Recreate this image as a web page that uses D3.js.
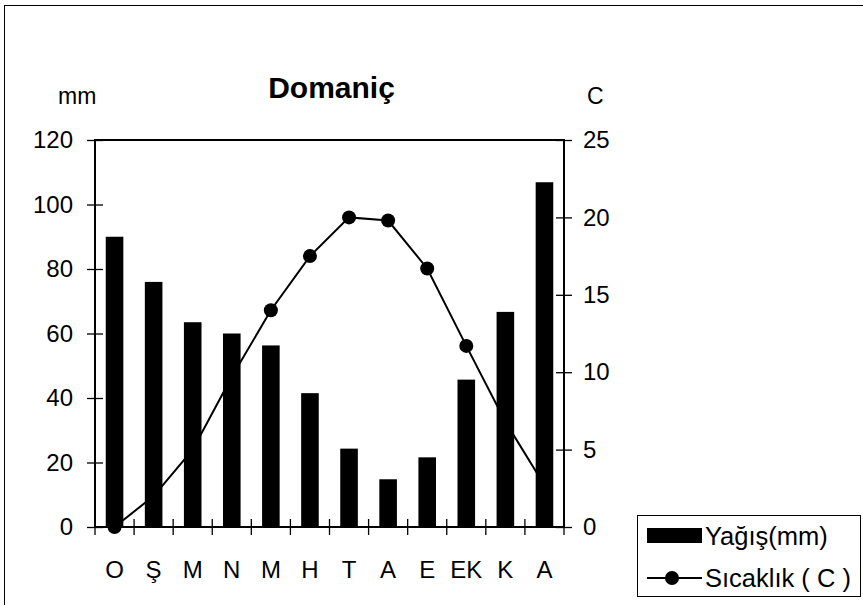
<!DOCTYPE html>
<html><head><meta charset="utf-8">
<script src="https://cdn.jsdelivr.net/npm/d3@7"></script>
<style>
html,body{margin:0;padding:0;background:#fff;}
svg{display:block;font-family:"Liberation Sans",Arial,sans-serif;}
</style></head>
<body>
<svg id="chart" width="863" height="605"></svg>
<script>
const months = ["O","Ş","M","N","M","H","T","A","E","EK","K","A"];
const precipitation = [90, 76, 63.5, 60, 56.3, 41.5, 24.3, 14.8, 21.6, 45.7, 66.7, 106.9];
const temperature = [0, 2.0, 5.0, 9.7, 14.0, 17.5, 20.0, 19.8, 16.7, 11.7, 6.8, 2.7];
const leftTicks = [0, 20, 40, 60, 80, 100, 120];
const rightTicks = [0, 5, 10, 15, 20, 25];
const title = "Domaniç";
const leftUnit = "mm", rightUnit = "C";
const legendLabels = ["Yağış(mm)", "Sıcaklık ( C )"];

const FS = 24;
const svg = d3.select("#chart");
const L = 95, R = 564, T = 140, B = 527;

svg.append("rect").attr("x",4.5).attr("y",5.5).attr("width",950).attr("height",700)
  .attr("fill","none").attr("stroke","#000").attr("stroke-width",1);

const idx = months.map((d,i)=>i);
const x = d3.scaleBand().domain(idx).range([L,R]).paddingInner(0).paddingOuter(0);
const yL = d3.scaleLinear().domain([0,120]).range([B,T]);
const yR = d3.scaleLinear().domain([0,25]).range([B,T]);

const line = d3.line().x((d,i)=>x(i)+x.bandwidth()/2).y(d=>yR(d));
svg.append("path").datum(temperature).attr("d",line)
  .attr("fill","none").attr("stroke","#000").attr("stroke-width",2);
svg.selectAll("circle.pt").data(temperature).enter().append("circle")
  .attr("class","pt").attr("cx",(d,i)=>x(i)+x.bandwidth()/2).attr("cy",d=>yR(d))
  .attr("r",7).attr("fill","#000");

const bw = x.bandwidth()*0.45;
svg.selectAll("rect.bar").data(precipitation).enter().append("rect")
  .attr("class","bar")
  .attr("x",(d,i)=>x(i)+x.bandwidth()/2-bw/2)
  .attr("y",d=>yL(d)).attr("width",bw).attr("height",d=>B-yL(d))
  .attr("fill","#000");

svg.append("rect").attr("x",L).attr("y",T).attr("width",R-L).attr("height",B-T)
  .attr("fill","none").attr("stroke","#000").attr("stroke-width",2);

const gl = svg.append("g").attr("transform",`translate(${L},0)`)
  .call(d3.axisLeft(yL).tickValues(leftTicks).tickSize(8).tickPadding(14));
gl.select(".domain").remove();
gl.selectAll(".tick line").attr("x2",-8).attr("x1",8).attr("stroke","#000").attr("stroke-width",1.3);
gl.selectAll(".tick text").attr("font-size",FS).attr("fill","#000").attr("font-family","Liberation Sans, Arial, sans-serif");

const gr = svg.append("g").attr("transform",`translate(${R},0)`)
  .call(d3.axisRight(yR).tickValues(rightTicks).tickSize(8).tickPadding(11));
gr.select(".domain").remove();
gr.selectAll(".tick line").attr("x1",-8).attr("x2",8).attr("stroke","#000").attr("stroke-width",1.3);
gr.selectAll(".tick text").attr("font-size",FS).attr("fill","#000").attr("font-family","Liberation Sans, Arial, sans-serif");

const gb = svg.append("g");
const bounds = idx.map(i=>x(i)).concat([R]);
gb.selectAll("line").data(bounds).enter().append("line")
  .attr("x1",d=>d).attr("x2",d=>d).attr("y1",B-8).attr("y2",B+8)
  .attr("stroke","#000").attr("stroke-width",1.3);
gb.selectAll("text").data(months).enter().append("text")
  .attr("x",(d,i)=>x(i)+x.bandwidth()/2).attr("y",578)
  .attr("text-anchor","middle").attr("font-size",FS).attr("fill","#000").text(d=>d);

svg.append("text").attr("x",(L+R)/2+2).attr("y",98).attr("text-anchor","middle")
  .attr("font-size",30).attr("font-weight","bold").text(title);
svg.append("text").attr("x",58).attr("y",104).attr("font-size",FS-1).text(leftUnit);
svg.append("text").attr("x",587).attr("y",104).attr("font-size",FS-1).text(rightUnit);

const lg = svg.append("g");
lg.append("rect").attr("x",637.5).attr("y",515.5).attr("width",223).attr("height",81)
  .attr("fill","#fff").attr("stroke","#000").attr("stroke-width",1);
lg.append("rect").attr("x",647).attr("y",528).attr("width",55).attr("height",15).attr("fill","#000");
lg.append("text").attr("x",705).attr("y",545).attr("font-size",25.5).text(legendLabels[0]);
lg.append("line").attr("x1",647).attr("x2",702).attr("y1",578).attr("y2",578)
  .attr("stroke","#000").attr("stroke-width",2);
lg.append("circle").attr("cx",672).attr("cy",578).attr("r",7).attr("fill","#000");
lg.append("text").attr("x",705).attr("y",587).attr("font-size",25.5).text(legendLabels[1]);
</script>
</body></html>
